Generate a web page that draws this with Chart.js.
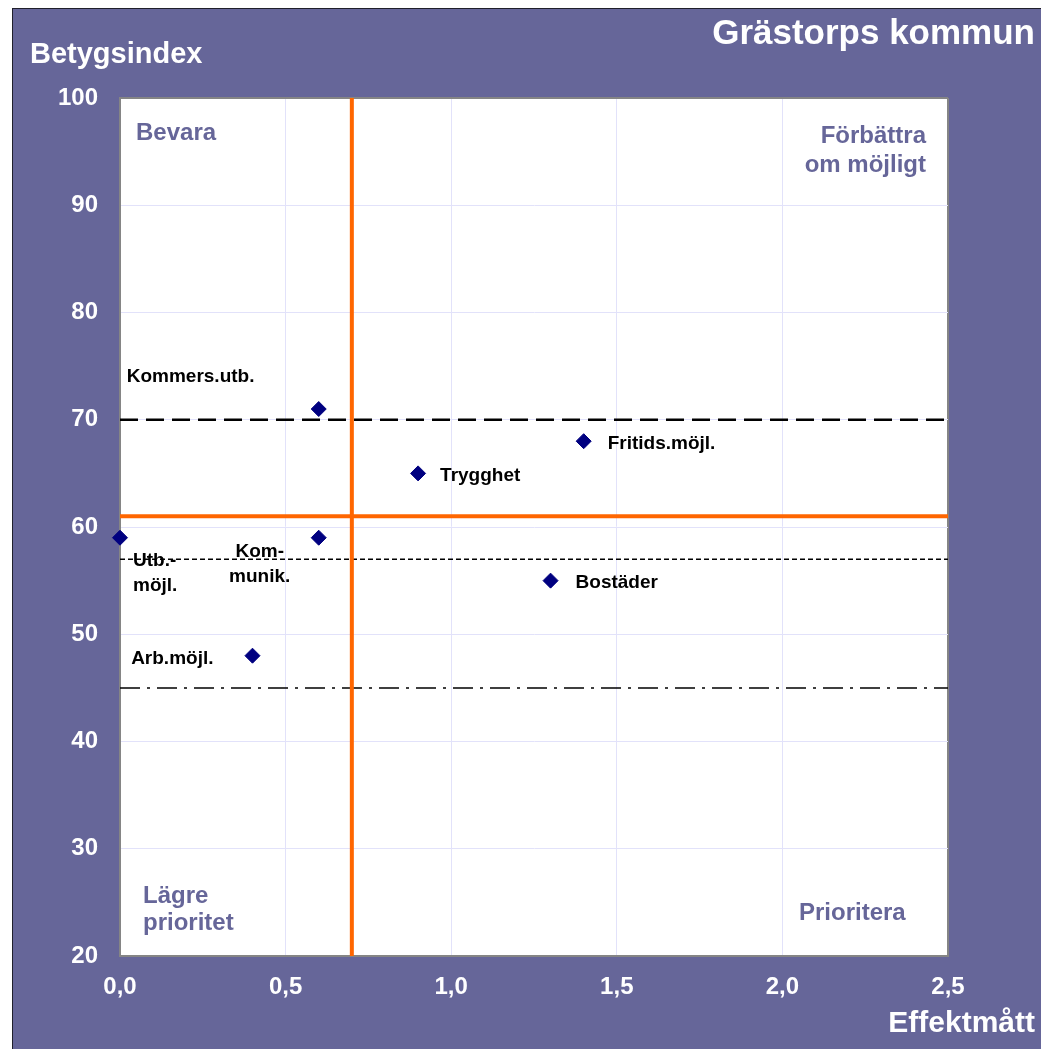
<!DOCTYPE html>
<html>
<head>
<meta charset="utf-8">
<script src="https://cdn.jsdelivr.net/npm/chart.js@4/dist/chart.umd.min.js"></script>
<style>
  html, body { margin: 0; padding: 0; background: #ffffff; }
  canvas { display: block; }
</style>
</head>
<body>
<canvas id="c" width="1041" height="1049"></canvas>
<script>
// ---- Data ----
const categories = ['Kommers.utb.', 'Utb.-möjl.', 'Kommunik.', 'Arb.möjl.', 'Trygghet', 'Fritids.möjl.', 'Bostäder'];
const effekt     = [0.6, 0.0, 0.6, 0.4, 0.9, 1.4, 1.3];
const betyg      = [71, 59, 59, 48, 65, 68, 55];
const refEffekt  = 0.7;   // vertical orange line
const refBetyg   = 61;    // horizontal orange line
const levelLines = [70, 57, 45]; // black reference lines
const xTicks = [0, 0.5, 1.0, 1.5, 2.0, 2.5];
const yTicks = [20, 30, 40, 50, 60, 70, 80, 90, 100];
const chartTitle = 'Grästorps kommun';
const yTitle = 'Betygsindex';
const xTitle = 'Effektmått';

// ---- Styles / layout (not data) ----
const FONT = '"Liberation Sans", Arial, Helvetica, sans-serif';
const PURPLE = '#666699';
const GRID = '#e2e2fa';
const FRAME = '#858585';
const xMin = xTicks[0], xMax = xTicks[xTicks.length - 1];
const yMin = yTicks[0], yMax = yTicks[yTicks.length - 1];

// label display: lines, alignment, offsets from point in px
const labelStyle = {
  'Kommers.utb.': { lines: ['Kommers.utb.'], align: 'left', dx: -192, dy: -27 },
  'Utb.-möjl.':   { lines: ['Utb.-', 'möjl.'], align: 'left', dx: 13, dy: 28 },
  'Kommunik.':    { lines: ['Kom-', 'munik.'], align: 'center', dx: -59, dy: 19 },
  'Arb.möjl.':    { lines: ['Arb.möjl.'], align: 'right', dx: -39, dy: 8 },
  'Trygghet':     { lines: ['Trygghet'], align: 'left', dx: 22, dy: 8 },
  'Fritids.möjl.':{ lines: ['Fritids.möjl.'], align: 'left', dx: 24, dy: 8 },
  'Bostäder':     { lines: ['Bostäder'], align: 'left', dx: 25, dy: 7 }
};

const points = effekt.map((v, i) => ({ x: v, y: betyg[i] }));

const bgPlugin = {
  id: 'bg',
  beforeDraw(chart) {
    const ctx = chart.ctx, a = chart.chartArea;
    ctx.save();
    ctx.fillStyle = '#ffffff';
    ctx.fillRect(0, 0, chart.width, chart.height);
    ctx.fillStyle = '#20202c';
    ctx.fillRect(12, 8, chart.width - 12, chart.height - 8);
    ctx.fillStyle = PURPLE;
    ctx.fillRect(13, 9, chart.width - 13, chart.height - 9);
    ctx.fillStyle = '#ffffff';
    ctx.fillRect(a.left, a.top, a.right - a.left, a.bottom - a.top);
    ctx.restore();
  }
};

const textPlugin = {
  id: 'texts',
  afterDatasetsDraw(chart) {
    const ctx = chart.ctx;
    const xs = chart.scales.x, ys = chart.scales.y;
    ctx.save();
    ctx.fillStyle = '#000000';
    ctx.font = 'bold 19px ' + FONT;
    ctx.textBaseline = 'alphabetic';
    categories.forEach((name, i) => {
      const st = labelStyle[name];
      const px = xs.getPixelForValue(effekt[i]);
      const py = ys.getPixelForValue(betyg[i]);
      ctx.textAlign = st.align;
      st.lines.forEach((ln, k) => {
        ctx.fillText(ln, px + st.dx, py + st.dy + k * 25);
      });
    });
    ctx.restore();
  },
  afterDraw(chart) {
    const ctx = chart.ctx, a = chart.chartArea;
    ctx.save();
    ctx.textBaseline = 'alphabetic';
    ctx.fillStyle = '#ffffff';
    ctx.font = 'bold 35px ' + FONT;
    ctx.textAlign = 'right';
    ctx.fillText(chartTitle, 1035, 44);
    ctx.font = 'bold 29px ' + FONT;
    ctx.textAlign = 'left';
    ctx.fillText(yTitle, 30, 63);
    ctx.font = 'bold 30px ' + FONT;
    ctx.textAlign = 'right';
    ctx.fillText(xTitle, 1035, 1032);
    ctx.fillStyle = PURPLE;
    ctx.font = 'bold 24px ' + FONT;
    ctx.textAlign = 'left';
    ctx.fillText('Bevara', a.left + 16, a.top + 42);
    ctx.fillText('Lägre', a.left + 23, a.bottom - 53);
    ctx.fillText('prioritet', a.left + 23, a.bottom - 26);
    ctx.fillText('Prioritera', a.right - 149, a.bottom - 36);
    ctx.textAlign = 'right';
    ctx.fillText('Förbättra', a.right - 22, a.top + 45);
    ctx.fillText('om möjligt', a.right - 22, a.top + 74);
    ctx.restore();
  }
};

const refLine = (pts, color, width, dash, order) => ({
  type: 'line',
  data: pts,
  borderColor: color,
  borderWidth: width,
  borderDash: dash,
  pointRadius: 0,
  fill: false,
  tension: 0,
  order: order
});

const datasets = [
  {
    type: 'scatter',
    data: points,
    pointStyle: 'rectRot',
    pointRadius: 7.5,
    pointBackgroundColor: '#000080',
    pointBorderColor: '#000080',
    pointBorderWidth: 1,
    showLine: false,
    clip: false,
    order: 0
  },
  refLine([{ x: refEffekt, y: yMin }, { x: refEffekt, y: yMax }], '#ff6600', 4, [], 1),
  refLine([{ x: xMin, y: refBetyg }, { x: xMax, y: refBetyg }], '#ff6600', 4, [], 1),
  refLine([{ x: xMin, y: levelLines[0] }, { x: xMax, y: levelLines[0] }], '#000000', 2.5, [18, 8], 2),
  refLine([{ x: xMin, y: levelLines[1] }, { x: xMax, y: levelLines[1] }], '#000000', 1.5, [5, 3], 2),
  refLine([{ x: xMin, y: levelLines[2] }, { x: xMax, y: levelLines[2] }], '#000000', 1.5, [20, 7, 3, 7], 2)
];

const edgeColor = (max) => (c) => (c.tick && Math.abs(c.tick.value - max) < 1e-9) ? FRAME : GRID;
const edgeWidth = (max) => (c) => (c.tick && Math.abs(c.tick.value - max) < 1e-9) ? 2 : 1;

new Chart(document.getElementById('c'), {
  type: 'scatter',
  data: { datasets },
  plugins: [bgPlugin, textPlugin],
  options: {
    responsive: false,
    devicePixelRatio: 1,
    animation: false,
    events: [],
    layout: { padding: { left: 0, top: 98, right: 93, bottom: 0 } },
    plugins: { legend: { display: false }, tooltip: { enabled: false }, title: { display: false } },
    scales: {
      x: {
        type: 'linear',
        min: xMin, max: xMax,
        afterBuildTicks: (s) => { s.ticks = xTicks.map(v => ({ value: v })); },
        afterFit: (s) => { s.height = 93; },
        ticks: {
          color: '#ffffff',
          font: { family: FONT, size: 24, weight: 'bold' },
          padding: 17,
          maxRotation: 0,
          autoSkip: false,
          callback: (v) => Number(v).toFixed(1).replace('.', ',')
        },
        grid: { color: edgeColor(xMax), lineWidth: edgeWidth(xMax), drawTicks: false },
        border: { display: true, color: FRAME, width: 2 }
      },
      y: {
        type: 'linear',
        min: yMin, max: yMax,
        afterBuildTicks: (s) => { s.ticks = yTicks.map(v => ({ value: v })); },
        afterFit: (s) => { s.width = 120; },
        ticks: {
          color: '#ffffff',
          font: { family: FONT, size: 24, weight: 'bold' },
          padding: 22,
          autoSkip: false,
          callback: (v) => String(v)
        },
        grid: { color: edgeColor(yMax), lineWidth: edgeWidth(yMax), drawTicks: false },
        border: { display: true, color: FRAME, width: 2 }
      }
    }
  }
});
</script>
</body>
</html>
